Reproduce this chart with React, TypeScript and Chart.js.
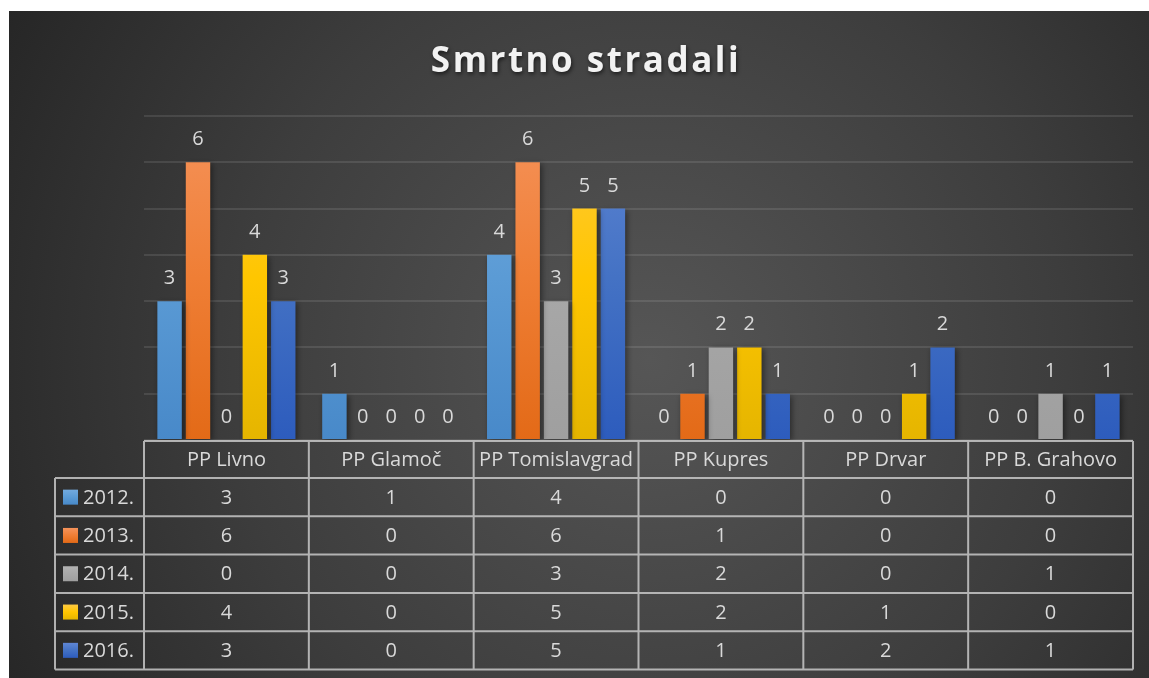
import React, { useEffect, useRef } from "react";
import { Chart, registerables } from "chart.js";

Chart.register(...registerables);

const categories = ["PP Livno", "PP Glamoč", "PP Tomislavgrad", "PP Kupres", "PP Drvar", "PP B. Grahovo"];
const seriesNames = ["2012.", "2013.", "2014.", "2015.", "2016."];
const v2012 = [3, 1, 4, 0, 0, 0];
const v2013 = [6, 0, 6, 1, 0, 0];
const v2014 = [0, 0, 3, 2, 0, 1];
const v2015 = [4, 0, 5, 2, 1, 0];
const v2016 = [3, 0, 5, 1, 2, 1];
const seriesValues = [v2012, v2013, v2014, v2015, v2016];
const titleText = "Smrtno stradali";

const gradStops: [string, string, string][] = [
  ["#73aade", "#5b9bd5", "#4889c9"],
  ["#f5935b", "#ef7e35", "#e36a17"],
  ["#b3b3b3", "#a8a8a8", "#9f9f9f"],
  ["#ffc942", "#ffc600", "#e5b500"],
  ["#5f86d4", "#4472c4", "#2d5cbd"],
];

const FONT = "'Open Sans', 'DejaVu Sans', sans-serif";

function makeGrad(ctx: CanvasRenderingContext2D, top: number, bottom: number, i: number) {
  const g = ctx.createLinearGradient(0, top, 0, bottom);
  g.addColorStop(0, gradStops[i][0]);
  g.addColorStop(0.5, gradStops[i][1]);
  g.addColorStop(1, gradStops[i][2]);
  return g;
}

const bgPlugin = {
  id: "bgPlugin",
  beforeDraw(chart: any) {
    const { ctx, width, height } = chart;
    ctx.save();
    ctx.fillStyle = "#ffffff";
    ctx.fillRect(0, 0, width, height);
    const g = ctx.createRadialGradient(650, 360, 0, 650, 360, 760);
    g.addColorStop(0, "#565656");
    g.addColorStop(0.55, "#3d3d3d");
    g.addColorStop(1, "#242424");
    ctx.fillStyle = g;
    ctx.fillRect(9, 11, width - 9, height - 11);
    ctx.font = `bold 35px ${FONT}`;
    (ctx as any).letterSpacing = "2.5px";
    ctx.textAlign = "center";
    ctx.textBaseline = "alphabetic";
    ctx.shadowColor = "rgba(0,0,0,0.6)";
    ctx.shadowBlur = 4;
    ctx.shadowOffsetX = 1;
    ctx.shadowOffsetY = 2;
    ctx.fillStyle = "#f2f2f2";
    ctx.fillText(titleText, 586, 72);
    ctx.restore();
  },
  beforeDatasetsDraw(chart: any) {
    const ctx = chart.ctx;
    ctx.save();
    ctx.shadowColor = "rgba(0,0,0,0.45)";
    ctx.shadowBlur = 6;
    ctx.shadowOffsetX = 2;
    ctx.shadowOffsetY = 2;
  },
  afterDatasetsDraw(chart: any) {
    const ctx = chart.ctx;
    ctx.restore();
    ctx.save();
    ctx.font = `20px ${FONT}`;
    ctx.fillStyle = "#d9d9d9";
    ctx.textAlign = "center";
    ctx.textBaseline = "alphabetic";
    chart.data.datasets.forEach((ds: any, di: number) => {
      const meta = chart.getDatasetMeta(di);
      meta.data.forEach((el: any, i: number) => {
        ctx.fillText(String(ds.data[i]), el.x, el.y - 17);
      });
    });
    ctx.restore();
  },
  afterDraw(chart: any) {
    const { ctx, chartArea } = chart;
    const xs = chart.scales.x;
    const n = categories.length;
    const catW = (chartArea.right - chartArea.left) / n;
    const left = chartArea.left;
    const right = chartArea.right;
    const headTop = chartArea.bottom + 1;
    const headH = 37;
    const rowH = 38.3;
    const rowsTop = headTop + headH;
    const tableLeft = 55;
    const bottom = rowsTop + rowH * seriesNames.length;
    ctx.save();
    ctx.strokeStyle = "rgba(200,200,200,0.85)";
    ctx.lineWidth = 2;
    ctx.beginPath();
    ctx.moveTo(left, headTop);
    ctx.lineTo(right, headTop);
    for (let r = 0; r <= seriesNames.length; r++) {
      const y = rowsTop + r * rowH;
      ctx.moveTo(tableLeft, y);
      ctx.lineTo(right, y);
    }
    ctx.moveTo(tableLeft, rowsTop);
    ctx.lineTo(tableLeft, bottom);
    for (let c = 0; c <= n; c++) {
      const x = left + c * catW;
      ctx.moveTo(x, headTop);
      ctx.lineTo(x, bottom);
    }
    ctx.stroke();

    ctx.font = `20px ${FONT}`;
    ctx.fillStyle = "#d9d9d9";
    ctx.textAlign = "center";
    ctx.textBaseline = "middle";
    categories.forEach((c, i) => {
      ctx.fillText(c, xs.getPixelForValue(i), headTop + headH / 2 + 1);
    });
    seriesValues.forEach((vals, r) => {
      const yc = rowsTop + r * rowH + rowH / 2 + 1;
      vals.forEach((v, i) => {
        ctx.fillText(String(v), xs.getPixelForValue(i), yc);
      });
    });
    ctx.textAlign = "left";
    seriesNames.forEach((s, r) => {
      const yc = rowsTop + r * rowH + rowH / 2;
      ctx.fillStyle = makeGrad(ctx, yc - 7.5, yc + 7.5, r);
      ctx.fillRect(63, yc - 7.5, 15, 15);
      ctx.fillStyle = "#d9d9d9";
      ctx.fillText(s, 83, yc + 1);
    });
    ctx.restore();
  },
};

export default function App() {
  const ref = useRef<HTMLCanvasElement>(null);
  useEffect(() => {
    document.body.style.margin = "0";
    const canvas = ref.current!;
    const chart = new Chart(canvas, {
      type: "bar",
      data: {
        labels: categories,
        datasets: seriesNames.map((name, i) => ({
          label: name,
          data: seriesValues[i],
          backgroundColor: (c: any) => {
            const ca = c.chart.chartArea;
            if (!ca) return gradStops[i][1];
            return makeGrad(c.chart.ctx, ca.top, ca.bottom, i);
          },
          borderWidth: 0,
          categoryPercentage: 0.862,
          barPercentage: 0.86,
        })),
      },
      options: {
        responsive: false,
        animation: false,
        devicePixelRatio: 1,
        layout: { padding: { left: 144, right: 16, top: 116, bottom: 238 } },
        plugins: {
          legend: { display: false },
          title: { display: false },
          tooltip: { enabled: false },
        },
        scales: {
          x: { display: false },
          y: {
            display: true,
            min: 0,
            max: 7,
            ticks: { display: false, stepSize: 1 },
            border: { display: false },
            grid: { color: "rgba(255,255,255,0.1)", lineWidth: 2, drawTicks: false },
          },
        },
      },
      plugins: [bgPlugin],
    });
    return () => chart.destroy();
  }, []);
  return (
    <div style={{ position: "fixed", left: 0, top: 0, width: 1149, height: 678 }}>
      <canvas ref={ref} width={1149} height={678} style={{ display: "block" }} />
    </div>
  );
}
